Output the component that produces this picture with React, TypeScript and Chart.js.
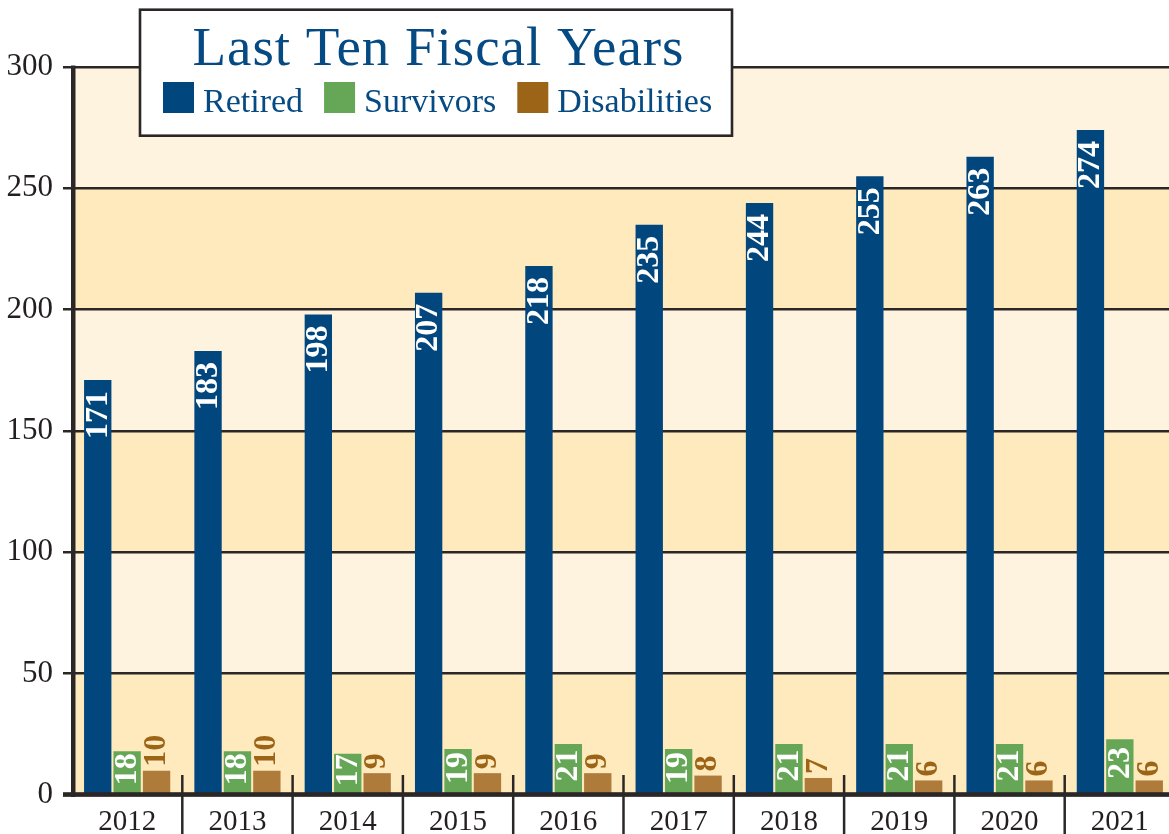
import React, { useEffect, useRef } from "react";
import { Chart, registerables } from "chart.js";

Chart.register(...registerables);

const years = ["2012", "2013", "2014", "2015", "2016", "2017", "2018", "2019", "2020", "2021"];
const retired = [171, 183, 198, 207, 218, 235, 244, 255, 263, 274];
const survivors = [18, 18, 17, 19, 21, 19, 21, 21, 21, 23];
const disabilities = [10, 10, 9, 9, 9, 8, 7, 6, 6, 6];
const yTicks = [0, 50, 100, 150, 200, 250, 300];
const titleText = "Last Ten Fiscal Years";
const seriesNames = ["Retired", "Survivors", "Disabilities"];

const C = {
  blue: "#02467E",
  green: "#66A757",
  brown: "#AF7B3B",
  brownDark: "#9C6416",
  text: "#231F20",
  title: "#054A82",
  light: "#FEF3DE",
  dark: "#FEEABD",
  grid: "#2B2727",
};
const SERIF = '"Liberation Serif", "Times New Roman", serif';

const W = 1176;
const H = 834;

const bandsPlugin = {
  id: "bands",
  beforeDraw(chart: any) {
    const { ctx, chartArea: a, scales } = chart;
    const y = scales.y;
    ctx.save();
    for (let i = 0; i < yTicks.length - 1; i++) {
      const y0 = y.getPixelForValue(yTicks[i]);
      const y1 = y.getPixelForValue(yTicks[i + 1]);
      ctx.fillStyle = i % 2 === 0 ? C.dark : C.light;
      ctx.fillRect(a.left, y1, a.right - a.left, y0 - y1);
    }
    ctx.restore();
  },
};

function rotText(ctx: any, text: string, x: number, y: number, align: string, color: string) {
  ctx.save();
  ctx.translate(x, y);
  ctx.rotate(-Math.PI / 2);
  ctx.textAlign = align;
  ctx.textBaseline = "middle";
  ctx.fillStyle = color;
  ctx.fillText(text, 0, 0);
  ctx.restore();
}

const overlayPlugin = {
  id: "overlay",
  afterDatasetsDraw(chart: any) {
    const { ctx, chartArea: a, scales } = chart;
    const xs = scales.x;
    ctx.save();
    // axes
    ctx.fillStyle = C.grid;
    ctx.fillRect(a.left - 1, a.top - 1.5, 4.5, a.bottom + 2 - (a.top - 1.5));
    ctx.fillRect(a.left - 9, a.bottom - 2.8, a.right - a.left + 12, 4.5);
    // dividers
    ctx.strokeStyle = C.grid;
    ctx.lineWidth = 2.5;
    for (let i = 1; i < years.length; i++) {
      const x = (xs.getPixelForTick(i - 1) + xs.getPixelForTick(i)) / 2;
      ctx.beginPath();
      ctx.moveTo(x, a.bottom - 20);
      ctx.lineTo(x, H);
      ctx.stroke();
    }
    // labels
    ctx.font = `bold 32px ${SERIF}`;
    const base = a.bottom;
    chart.getDatasetMeta(0).data.forEach((bar: any, i: number) => {
      rotText(ctx, String(retired[i]), bar.x + 0.5, bar.y + 11, "right", "#FFFFFF");
    });
    chart.getDatasetMeta(1).data.forEach((bar: any, i: number) => {
      rotText(ctx, String(survivors[i]), bar.x + 0.5, (bar.y + base) / 2 - 4, "center", "#FFFFFF");
    });
    chart.getDatasetMeta(2).data.forEach((bar: any, i: number) => {
      rotText(ctx, String(disabilities[i]), bar.x, bar.y - 4, "left", C.brownDark);
    });
    ctx.restore();
  },
  afterDraw(chart: any) {
    const { ctx } = chart;
    ctx.save();
    // legend box
    ctx.fillStyle = "#FFFFFF";
    ctx.fillRect(140, 9.7, 592, 126);
    ctx.strokeStyle = C.grid;
    ctx.lineWidth = 2.6;
    ctx.strokeRect(140, 9.7, 592, 126);
    // title
    ctx.fillStyle = C.title;
    ctx.font = `55px ${SERIF}`;
    ctx.textBaseline = "alphabetic";
    ctx.textAlign = "left";
    const w0 = ctx.measureText(titleText).width;
    const targetW = 491;
    const ls = Math.max(0, (targetW - w0) / (titleText.length - 1));
    let w = w0;
    if ("letterSpacing" in ctx) {
      (ctx as any).letterSpacing = ls + "px";
      w = ctx.measureText(titleText).width - ls;
    }
    ctx.fillText(titleText, 438 - w / 2, 65);
    if ("letterSpacing" in ctx) (ctx as any).letterSpacing = "0px";
    // legend items
    const colors = [C.blue, C.green, C.brownDark];
    ctx.font = `34px ${SERIF}`;
    let x = 163;
    seriesNames.forEach((name, i) => {
      ctx.fillStyle = colors[i];
      ctx.fillRect(x, 82, 31, 31);
      x += 31 + 9;
      ctx.fillStyle = C.title;
      ctx.fillText(name, x, 112);
      x += ctx.measureText(name).width + 21;
    });
    ctx.restore();
  },
};

export default function App() {
  const ref = useRef<HTMLCanvasElement | null>(null);
  useEffect(() => {
    if (!ref.current) return;
    const chart = new Chart(ref.current, {
      type: "bar",
      data: {
        labels: years,
        datasets: [
          { label: seriesNames[0], data: retired, backgroundColor: C.blue },
          { label: seriesNames[1], data: survivors, backgroundColor: C.green },
          { label: seriesNames[2], data: disabilities, backgroundColor: C.brown },
        ],
      },
      options: {
        responsive: false,
        animation: false,
        devicePixelRatio: 1,
        layout: { padding: { top: 67, right: 1, left: 0, bottom: 0 } },
        datasets: {
          bar: { barPercentage: 0.93, categoryPercentage: 0.8, borderWidth: 0 },
        },
        plugins: {
          legend: { display: false },
          title: { display: false },
          tooltip: { enabled: false },
        },
        scales: {
          x: {
            grid: { display: false, drawTicks: false },
            border: { display: false },
            ticks: {
              color: C.text,
              font: { family: SERIF, size: 29 },
              padding: 10,
              maxRotation: 0,
              autoSkip: false,
            },
            afterFit: (s: any) => {
              s.height = 39;
            },
          },
          y: {
            min: yTicks[0],
            max: yTicks[yTicks.length - 1],
            grid: { color: C.grid, lineWidth: 2.5, tickLength: 9, drawTicks: true },
            border: { display: false },
            ticks: {
              stepSize: 50,
              color: C.text,
              font: { family: SERIF, size: 31 },
              padding: 10,
            },
            afterFit: (s: any) => {
              s.width = 72;
            },
          },
        },
      },
      plugins: [bandsPlugin, overlayPlugin],
    } as any);
    return () => chart.destroy();
  }, []);
  return (
    <div
      style={{
        position: "absolute",
        left: 0,
        top: 0,
        width: 1169,
        height: 834,
        overflow: "hidden",
        background: "#FFFFFF",
      }}
    >
      <canvas ref={ref} width={W} height={H} style={{ display: "block", width: W, height: H }} />
    </div>
  );
}
